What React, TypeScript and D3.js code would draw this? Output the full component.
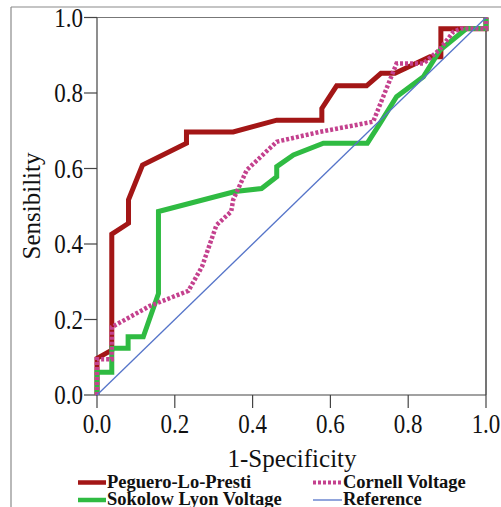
import React from "react";
import * as d3 from "d3";

const pegueroX = [0, 0, 0.038, 0.038, 0.081, 0.081, 0.117, 0.23, 0.23, 0.35, 0.462, 0.578, 0.578, 0.616, 0.693, 0.73, 0.766, 0.856, 0.884, 0.884, 1.0, 1.0];
const pegueroY = [0, 0.097, 0.119, 0.426, 0.455, 0.517, 0.609, 0.667, 0.697, 0.697, 0.728, 0.728, 0.759, 0.819, 0.819, 0.852, 0.852, 0.896, 0.896, 0.97, 0.97, 1.0];

const sokolowX = [0, 0, 0.038, 0.038, 0.08, 0.08, 0.119, 0.158, 0.158, 0.355, 0.423, 0.462, 0.462, 0.505, 0.582, 0.695, 0.728, 0.77, 0.839, 0.882, 0.95, 1.0, 1.0];
const sokolowY = [0, 0.06, 0.06, 0.124, 0.124, 0.154, 0.154, 0.269, 0.486, 0.539, 0.547, 0.578, 0.605, 0.636, 0.667, 0.667, 0.72, 0.79, 0.843, 0.914, 0.971, 0.971, 1.0];

const cornellX = [0, 0, 0.038, 0.038, 0.136, 0.235, 0.27, 0.307, 0.345, 0.35, 0.385, 0.462, 0.573, 0.71, 0.77, 0.839, 0.88, 0.916, 0.937, 1.0, 1.0];
const cornellY = [0, 0.095, 0.095, 0.18, 0.236, 0.276, 0.34, 0.45, 0.486, 0.517, 0.596, 0.671, 0.697, 0.724, 0.878, 0.878, 0.914, 0.962, 0.971, 0.971, 1.0];

const referenceX = [0, 1];
const referenceY = [0, 1];

const ticks = [0, 0.2, 0.4, 0.6, 0.8, 1.0];

const seriesNames = ["Peguero-Lo-Presti", "Cornell Voltage", "Sokolow Lyon Voltage", "Reference"];

export default function App() {
  const x = d3.scaleLinear().domain([0, 1]).range([97, 486]);
  const y = d3.scaleLinear().domain([0, 1]).range([395, 17.5]);
  const line = d3
    .line<[number, number]>()
    .x((d) => x(d[0]))
    .y((d) => y(d[1]));
  const zip = (a: number[], b: number[]) => a.map((v, i) => [v, b[i]] as [number, number]);

  const red = "#a31616";
  const green = "#2fbb42";
  const pink = "#c4418e";
  const blue = "#5574c9";
  const font = "'Liberation Serif', 'Times New Roman', serif";

  return (
    <svg
      width={501}
      height={507}
      style={{ position: "absolute", left: 0, top: 0, background: "#fff" }}
      fontFamily={font}
    >
      <rect x={0} y={0} width={501} height={507} fill="#fff" />
      {/* outer frame */}
      <line x1={11} y1={7} x2={501} y2={7} stroke="#8a8a8a" strokeWidth={1.2} />
      <line x1={11} y1={7} x2={11} y2={507} stroke="#8a8a8a" strokeWidth={1.2} />

      {/* plot frame */}
      <line x1={x(0)} y1={y(1)} x2={x(1)} y2={y(1)} stroke="#777" strokeWidth={1.2} />
      <line x1={x(1)} y1={y(1)} x2={x(1)} y2={y(0)} stroke="#666" strokeWidth={1.8} />
      <line x1={x(0)} y1={y(0)} x2={x(1)} y2={y(0)} stroke="#444" strokeWidth={1.2} />
      <line x1={x(0)} y1={y(0)} x2={x(0)} y2={y(1)} stroke="#444" strokeWidth={1.2} />

      {ticks.map((t) => (
        <g key={"y" + t}>
          <line x1={x(0) - 13} x2={x(0)} y1={y(t)} y2={y(t)} stroke="#444" strokeWidth={1.2} />
          <text
            transform={`translate(${x(0) - 14},${y(t) + 9}) scale(1,1.15)`}
            textAnchor="end"
            fontSize={23}
            fill="#111"
          >
            {t.toFixed(1)}
          </text>
        </g>
      ))}
      {ticks.map((t) => (
        <g key={"x" + t}>
          <line x1={x(t)} x2={x(t)} y1={y(0)} y2={y(0) + 13} stroke="#444" strokeWidth={1.2} />
          <text
            transform={`translate(${x(t)},${y(0) + 38}) scale(1,1.15)`}
            textAnchor="middle"
            fontSize={23}
            fill="#111"
          >
            {t.toFixed(1)}
          </text>
        </g>
      ))}

      <text x={292} y={467} textAnchor="middle" fontSize={25} fill="#111">
        1-Specificity
      </text>
      <text
        transform={`translate(40,206) rotate(-90)`}
        textAnchor="middle"
        fontSize={25}
        fill="#111"
      >
        Sensibility
      </text>

      {/* curves */}
      <path d={line(zip(pegueroX, pegueroY)) || ""} fill="none" stroke={red} strokeWidth={5} strokeLinejoin="miter" />
      <path d={line(zip(sokolowX, sokolowY)) || ""} fill="none" stroke={green} strokeWidth={5} strokeLinejoin="miter" />
      <path d={line(zip(cornellX, cornellY)) || ""} fill="none" stroke={pink} strokeWidth={4.5} strokeDasharray="3,2" />
      <path d={line(zip(referenceX, referenceY)) || ""} fill="none" stroke={blue} strokeWidth={1.3} />

      {/* legend */}
      <line x1={78} x2={106} y1={482.5} y2={482.5} stroke={red} strokeWidth={4.5} />
      <text x={107} y={488} fontSize={18.5} fontWeight="bold" fill="#111">{seriesNames[0]}</text>
      <line x1={313} x2={342} y1={482.5} y2={482.5} stroke={pink} strokeWidth={4} strokeDasharray="3,2" />
      <text x={343} y={488} fontSize={18.5} fontWeight="bold" fill="#111">{seriesNames[1]}</text>
      <line x1={78} x2={106} y1={500} y2={500} stroke={green} strokeWidth={4.5} />
      <text x={107} y={505} fontSize={18.5} fontWeight="bold" fill="#111">{seriesNames[2]}</text>
      <line x1={313} x2={342} y1={500} y2={500} stroke={blue} strokeWidth={1.3} />
      <text x={343} y={505} fontSize={18.5} fontWeight="bold" fill="#111">{seriesNames[3]}</text>
    </svg>
  );
}
